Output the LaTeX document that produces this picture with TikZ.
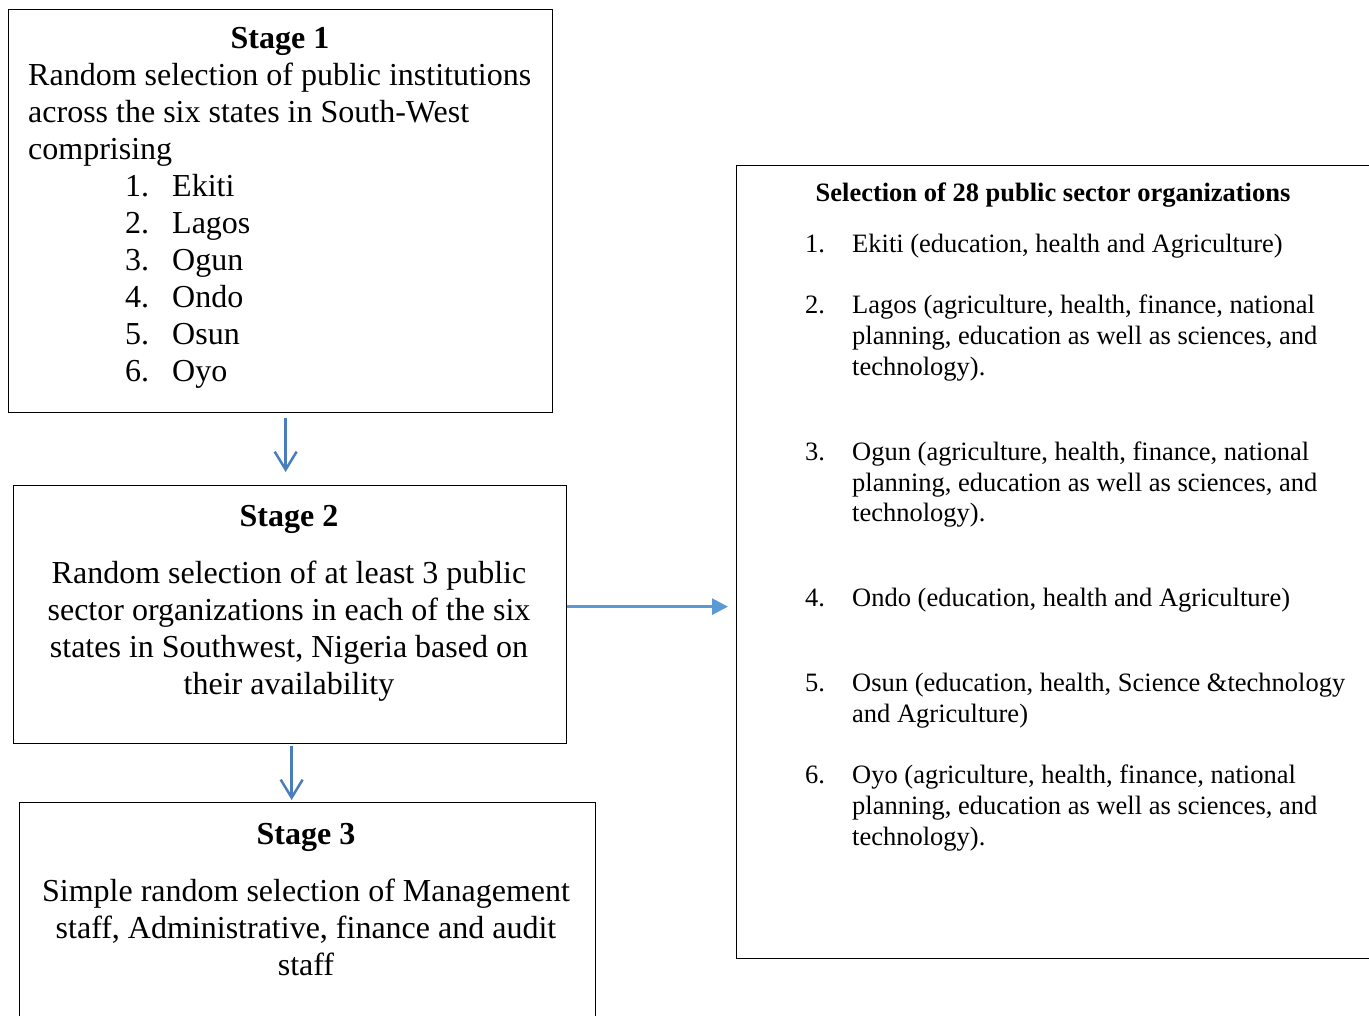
\documentclass[tikz,border=0pt]{standalone}
\usepackage{fontspec}
\setmainfont{Liberation Serif}
\usetikzlibrary{arrows.meta}
\definecolor{arrowblue}{HTML}{4A7EBB}
\definecolor{lightblue}{HTML}{5B9BD5}

\begin{document}
\begin{tikzpicture}[x=1pt,y=-1pt,
  stagebox/.style={draw,line width=1.3pt,inner sep=0pt,anchor=north west},
  bigtext/.style={font=\fontsize{32}{37}\selectfont,inner sep=0pt},
  stagetitle/.style={font=\fontsize{32}{37}\selectfont\bfseries,inner sep=0pt,anchor=base},
  smalltext/.style={font=\fontsize{26.5}{31}\selectfont,inner sep=0pt,anchor=base west},
  downflow/.style={arrowblue,line width=2.5pt,-{Straight Barb[length=18pt,width=22pt]}},
  sideflow/.style={lightblue,line width=3pt,-{Triangle[length=16pt,width=16pt]}}]
  \useasboundingbox (0,0) rectangle (1369,1016);
  \clip (0,0) rectangle (1369,1016);

  % boxes
  \node[stagebox,minimum width=544pt,minimum height=403pt] (stageone) at (8,9) {};
  \node[stagebox,minimum width=553pt,minimum height=258pt] (stagetwo) at (13,485) {};
  \node[stagebox,minimum width=576pt,minimum height=260pt] (stagethree) at (19,802) {};
  \node[stagebox,minimum width=660pt,minimum height=793pt] (orgs) at (736,165) {};

  % stage 1
  \node[stagetitle] (titleone) at (280,49) {Stage 1};
  \foreach \txt [count=\k from 0] in {Random selection of public institutions,
      across the six states in South-West, comprising}
    \node[bigtext,anchor=base west] (oneline\k) at (28,86+37*\k) {\txt};
  \foreach \state [count=\k] in {Ekiti,Lagos,Ogun,Ondo,Osun,Oyo} {
    \node[bigtext,anchor=base west] (statenum\k) at (125,197+37*\k-37) {\k.};
    \node[bigtext,anchor=base west] (state\k) at (172,197+37*\k-37) {\state};
  }

  % stage 2
  \node[stagetitle] (titletwo) at (289,526) {Stage 2};
  \foreach \txt [count=\k from 0] in {Random selection of at least 3 public,
      sector organizations in each of the six,
      {states in Southwest, Nigeria based on}, their availability}
    \node[bigtext,anchor=base] (twoline\k) at (289,583+37*\k) {\txt};

  % stage 3
  \node[stagetitle] (titlethree) at (306,844) {Stage 3};
  \foreach \txt [count=\k from 0] in {Simple random selection of Management,
      {staff, Administrative, finance and audit}, staff}
    \node[bigtext,anchor=base] (threeline\k) at (306,901+37*\k) {\txt};

  % organizations
  \node[font=\fontsize{26.5}{31}\selectfont\bfseries,inner sep=0pt,anchor=base] (orgtitle) at (1053,202)
    {Selection of 28 public sector organizations};
  \foreach \n/\y in {1/253,2/314,3/460,4/606,5/691,6/783}
    \node[smalltext] (orgnum\n) at (805,\y) {\n.};
  \foreach \y/\txt [count=\k] in {
      253/{Ekiti (education, health and Agriculture)},
      314/{Lagos (agriculture, health, finance, national},
      345/{planning, education as well as sciences, and},
      376/{technology).},
      460/{Ogun (agriculture, health, finance, national},
      491/{planning, education as well as sciences, and},
      521/{technology).},
      606/{Ondo (education, health and Agriculture)},
      691/{Osun (education, health, Science \&technology},
      722/{and Agriculture)},
      783/{Oyo (agriculture, health, finance, national},
      814/{planning, education as well as sciences, and},
      845/{technology).}}
    \node[smalltext] (orgline\k) at (852,\y) {\txt};

  % arrows
  \draw[downflow] ([xshift=5pt,yshift=-5pt]stageone.south) -- ([xshift=-4.5pt,yshift=13pt]stagetwo.north);
  \draw[downflow] ([xshift=1.5pt,yshift=-2pt]stagetwo.south) -- ([xshift=-16pt,yshift=2pt]stagethree.north);
  \draw[sideflow] ([yshift=8pt]stagetwo.east) -- ([xshift=-8pt,yshift=-44.5pt]orgs.west);
\end{tikzpicture}
\end{document}
